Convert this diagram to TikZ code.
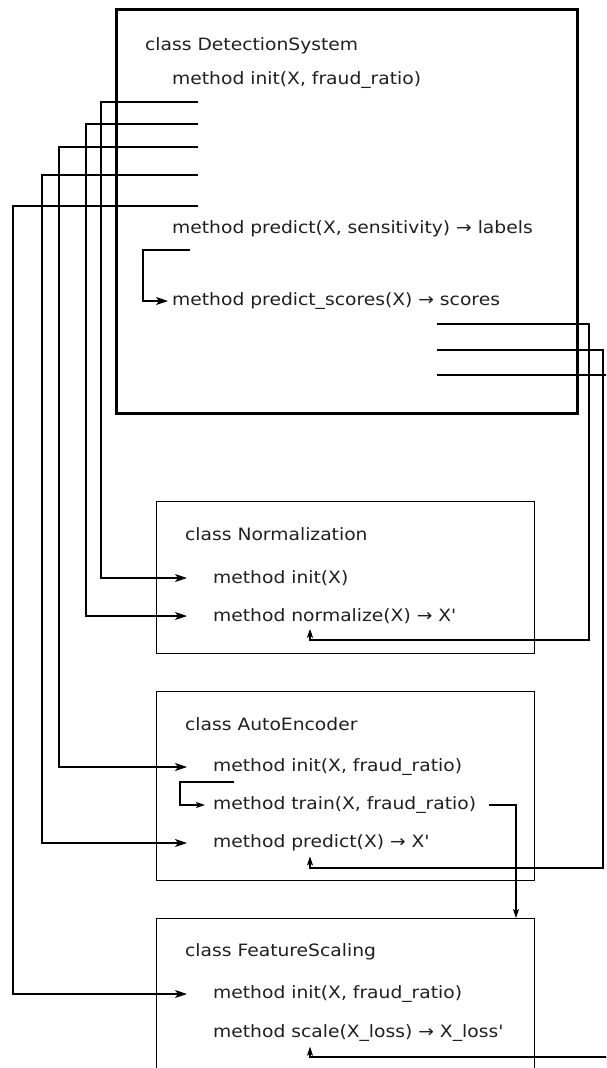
\documentclass[tikz,border=0pt]{standalone}
\usepackage{fontspec}
\newfontfamily\dfont{DejaVu Sans}[FakeStretch=1.1]
\usetikzlibrary{arrows.meta,calc}
\begin{document}
\begin{tikzpicture}[x=1pt,y=-1pt,
  txt/.style={anchor=west, inner sep=0pt, text=black!88, font=\dfont\fontsize{17}{19}\selectfont},
  bigbox/.style={draw, line width=2.6pt, anchor=north west, inner sep=0pt},
  clsbox/.style={draw, line width=1.4pt, anchor=north west, inner sep=0pt},
  conn/.style={line width=1.4pt},
  arr/.style={conn, -{Stealth[length=12pt,width=8pt,inset=3pt]}},
  sarr/.style={conn, -{Stealth[length=9pt,width=6pt,inset=2pt]}},
  uarr/.style={conn, -{Stealth[length=9pt,width=6pt,inset=2pt]}}]
\useasboundingbox (0,0) rectangle (606,1068);
\clip (0,0) rectangle (606,1068);
\fill[white] (0,0) rectangle (606,1068);

% boxes
\node[bigbox, minimum width=461pt, minimum height=404pt] (ds) at (115,8) {};
\node[clsbox, minimum width=378pt, minimum height=152pt] (nb) at (156,501) {};
\node[clsbox, minimum width=378pt, minimum height=189pt] (ab) at (156,691) {};
\node[clsbox, minimum width=378pt, minimum height=200pt] (fb) at (156,918) {};

% texts
\node[txt] (dsT) at (145,46) {class DetectionSystem};
\node[txt] (dsInit) at (172,80) {method init(X, fraud\_ratio)};
\node[txt] (dsPred) at (172,229) {method predict(X, sensitivity) → labels};
\node[txt] (dsScores) at (172,301) {method predict\_scores(X) → scores};

\node[txt] (nT) at (185,534) {class Normalization};
\node[txt] (nInit) at (213,578) {method init(X)};
\node[txt] (nNorm) at (213,616) {method normalize(X) → X'};

\node[txt] (aT) at (185,724) {class AutoEncoder};
\node[txt] (aInit) at (213,767) {method init(X, fraud\_ratio)};
\node[txt] (aTrain) at (213,805) {method train(X, fraud\_ratio)};
\node[txt] (aPred) at (213,843) {method predict(X) → X'};

\node[txt] (fT) at (185,952) {class FeatureScaling};
\node[txt] (fInit) at (213,994) {method init(X, fraud\_ratio)};
\node[txt] (fScale) at (213,1033) {method scale(X\_loss) → X\_loss'};

% free ends
\coordinate (s1) at (198,102);
\coordinate (s2) at (198,124);
\coordinate (s3) at (198,147);
\coordinate (s4) at (198,175);
\coordinate (s5) at (198,206);
\coordinate (b1) at (190,250);
\coordinate (r1) at (437,324);
\coordinate (r2) at (437,350);
\coordinate (r3) at (437,375);
\coordinate (b2) at (234,782);

% calls from DetectionSystem
\draw[arr] (s1) -- ++(-97,0) |- ([xshift=-26pt]nInit.west);
\draw[arr] (s2) -- ++(-112,0) |- ([xshift=-26pt]nNorm.west);
\draw[arr] (s3) -- ++(-139,0) |- ([xshift=-26pt]aInit.west);
\draw[arr] (s4) -- ++(-156,0) |- ([xshift=-26pt]aPred.west);
\draw[arr] (s5) -- ++(-185,0) |- ([xshift=-26pt]fInit.west);

% internal call predict -> predict_scores
\draw[arr] (b1) -- ++(-47,0) |- ([xshift=-4pt]dsScores.west);

% returns
\draw[uarr] (r1) -| (589,640) -| ($(nNorm.south west)+(97,5)$);
\draw[uarr] (r2) -| (603,868) -| ($(aPred.south west)+(97,5)$);
\draw[uarr] (r3) -| (618,1057) -| ($(fScale.south west)+(97,5)$);

% AutoEncoder internal
\draw[sarr] (b2) -- ++(-54,0) |- ([xshift=-8pt]aTrain.west);
\draw[sarr] ([xshift=13pt]aTrain.east) -| ($(fb.north west)+(360,0)$);
\end{tikzpicture}
\end{document}
